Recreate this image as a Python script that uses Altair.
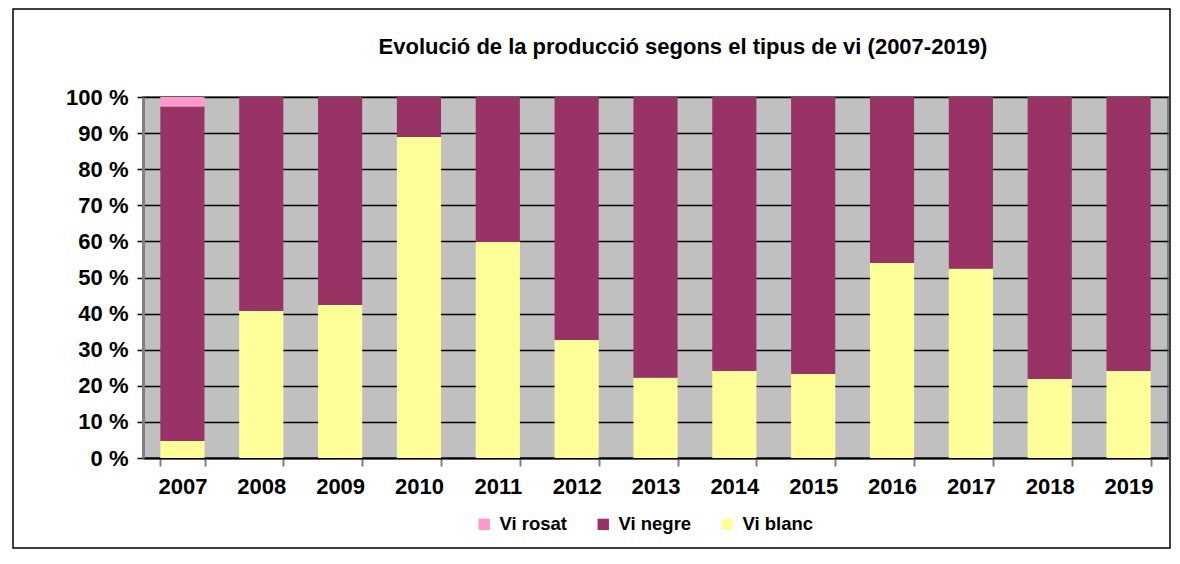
import altair as alt
import pandas as pd

years = ["2007", "2008", "2009", "2010", "2011", "2012", "2013",
         "2014", "2015", "2016", "2017", "2018", "2019"]
vi_blanc = [4.7, 40.7, 42.4, 88.9, 59.8, 32.7, 22.2, 24.1, 23.3, 54.0, 52.4, 21.9, 24.1]
vi_rosat = [2.6, 0, 0, 0, 0, 0, 0, 0, 0, 0, 0, 0, 0]
vi_negre = [round(100 - b - r, 1) for b, r in zip(vi_blanc, vi_rosat)]

series = ["Vi rosat", "Vi negre", "Vi blanc"]
colors = ["#FF99CC", "#993366", "#FFFF99"]
stack_order = {"Vi blanc": 0, "Vi negre": 1, "Vi rosat": 2}

rows = []
for i, y in enumerate(years):
    for name, vals in (("Vi blanc", vi_blanc), ("Vi negre", vi_negre), ("Vi rosat", vi_rosat)):
        rows.append({"year": y, "tipus": name, "value": vals[i], "ord": stack_order[name]})
df = pd.DataFrame(rows)

FONT = "Liberation Sans"
W, H = 1025, 361

border = alt.Chart(pd.DataFrame({"a": [0]})).mark_rect(
    fill=None, stroke="#000000", strokeWidth=1.5, clip=False
).encode(
    x=alt.value(13 - 143), x2=alt.value(1170 - 143),
    y=alt.value(9 - 97), y2=alt.value(548 - 97)
)

bars = alt.Chart(df).mark_bar().encode(
    x=alt.X("year:N", sort=years,
            scale=alt.Scale(paddingInner=0.44, paddingOuter=0.22),
            axis=alt.Axis(title=None, labelAngle=0, labelFont=FONT, labelFontSize=22,
                          labelFontWeight="bold", labelColor="#000000", labelPadding=10,
                          tickBand="extent", tickSize=8, tickColor="#808080", tickWidth=2,
                          domainColor="#000000", domainWidth=2, grid=False)),
    y=alt.Y("value:Q", stack="zero",
            scale=alt.Scale(domain=[0, 100], nice=False),
            axis=alt.Axis(title=None, values=list(range(0, 101, 10)),
                          labelExpr="datum.value + ' %'",
                          labelFont=FONT, labelFontSize=22, labelFontWeight="bold",
                          labelColor="#000000", labelPadding=9, tickSize=6,
                          tickColor="#000000", tickWidth=1.5,
                          domainColor="#808080", domainWidth=3,
                          grid=True, gridColor="#000000", gridWidth=1.5)),
    color=alt.Color("tipus:N", sort=series,
                    scale=alt.Scale(domain=series, range=colors),
                    legend=alt.Legend(title=None, orient="none", direction="horizontal",
                                      legendX=475 - 143, legendY=515 - 97,
                                      symbolType="square", symbolSize=130,
                                      symbolStrokeWidth=0, columnPadding=26,
                                      labelOffset=6,
                                      labelFont=FONT, labelFontSize=18.5,
                                      labelFontWeight="bold", labelColor="#000000")),
    order=alt.Order("ord:Q"),
)

title = alt.Chart(pd.DataFrame({"t": ["Evolució de la producció segons el tipus de vi (2007-2019)"]})).mark_text(
    font=FONT, fontSize=22, fontWeight="bold", color="#000000", align="center",
    baseline="middle", clip=False
).encode(text="t:N", x=alt.value(683 - 143), y=alt.value(47 - 97))

chart = alt.layer(border, bars, title).properties(
    width=W, height=H,
    autosize=alt.AutoSizeParams(type="none"),
    padding={"left": 135, "top": 89, "right": 4, "bottom": 98},
    background="#FFFFFF",
).configure_view(fill="#C0C0C0", stroke="#808080", strokeWidth=2)

chart.save("out.html", embed_options={"renderer": "svg", "actions": False})
